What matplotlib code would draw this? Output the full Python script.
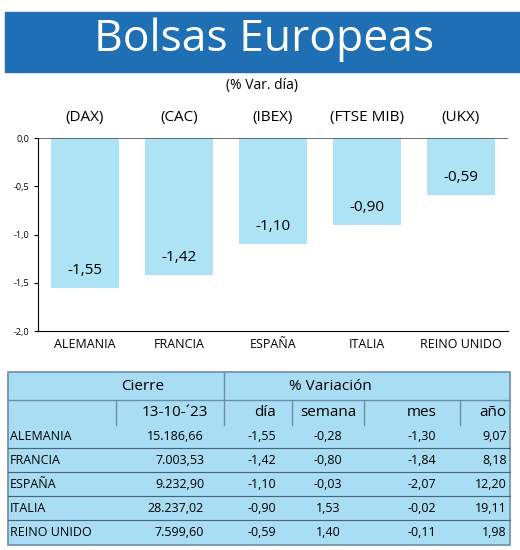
import matplotlib
matplotlib.use("Agg")
import matplotlib.pyplot as plt
from matplotlib.patches import Rectangle

plt.rcParams['font.family'] = ['Open Sans', 'DejaVu Sans']

countries = ["ALEMANIA", "FRANCIA", "ESPAÑA", "ITALIA", "REINO UNIDO"]
indices = ["(DAX)", "(CAC)", "(IBEX)", "(FTSE MIB)", "(UKX)"]
var_dia = [-1.55, -1.42, -1.10, -0.90, -0.59]
cierre = ["15.186,66", "7.003,53", "9.232,90", "28.237,02", "7.599,60"]
semana = ["-0,28", "-0,80", "-0,03", "1,53", "1,40"]
mes = ["-1,30", "-1,84", "-2,07", "-0,02", "-0,11"]
anio = ["9,07", "8,18", "12,20", "19,11", "1,98"]
yticks = [0.0, -0.5, -1.0, -1.5, -2.0]

W, H = 520, 550
fig = plt.figure(figsize=(W / 100, H / 100), dpi=100)
fig.patch.set_facecolor("white")

# overlay axes in pixel coords for header and table
ov = fig.add_axes([0, 0, 1, 1])
ov.set_xlim(0, W)
ov.set_ylim(H, 0)
ov.axis("off")

ov.add_patch(Rectangle((5, 12), 515, 60, color="#1e6fb3"))
ov.text(264, 40, "Bolsas Europeas", color="white", fontsize=32, ha="center", va="center")
ov.text(262, 86, "(% Var. día)", fontsize=10, ha="center", va="center")

# bar chart
ax = fig.add_axes([38 / W, 1 - 331 / H, 470 / W, 193 / H])
x = range(len(var_dia))
ax.bar(x, var_dia, width=0.72, color="#aee3f5")
for i, v in enumerate(var_dia):
    ax.text(i, v + 0.1, f"{v:.2f}".replace(".", ","), ha="center", va="bottom", fontsize=11)
    ax.text(i, 0.13, indices[i], ha="center", va="bottom", fontsize=11)
ax.set_xlim(-0.5, 4.5)
ax.set_ylim(-2.0, 0.0)
ax.set_yticks(yticks)
ax.set_yticklabels([f"{t:.1f}".replace(".", ",") for t in yticks], fontsize=6.5)
ax.set_xticks(list(x))
ax.set_xticklabels(countries, fontsize=9)
ax.tick_params(axis="x", length=0, pad=5)
ax.tick_params(axis="y", length=3)
for s in ["top", "right"]:
    ax.spines[s].set_visible(False)
ax.axhline(0.0, color="#555555", lw=0.6)
ax.set_facecolor("white")

# table
tx0, tx1, ty0, ty1 = 8, 510, 372, 545
ov.add_patch(Rectangle((tx0, ty0), tx1 - tx0, ty1 - ty0, facecolor="#a9ddf3", edgecolor="#6b8fa8", lw=1.2))
lc = "#6b8fa8"
ov.plot([tx0, tx1], [400, 400], color=lc, lw=1)
ov.plot([224, 224], [ty0, 425], color=lc, lw=1)
for xv in [116, 292, 364, 460]:
    ov.plot([xv, xv], [400, 425], color=lc, lw=1)
ov.text(143, 386, "Cierre", fontsize=11, ha="center", va="center")
ov.text(330, 386, "% Variación", fontsize=11, ha="center", va="center")
heads = [("13-10-´23", 208), ("día", 276), ("semana", 328), ("mes", 437), ("año", 506)]
for h, xr in heads:
    if h == "semana":
        ov.text(xr, 413, h, fontsize=11, ha="center", va="center")
    else:
        ov.text(xr, 413, h, fontsize=11, ha="right", va="center")
row_h = 24
for r, c in enumerate(countries):
    yc = 437 + r * row_h
    ov.text(10, yc, c, fontsize=9, ha="left", va="center")
    ov.text(204, yc, cierre[r], fontsize=9, ha="right", va="center")
    ov.text(276, yc, f"{var_dia[r]:.2f}".replace(".", ","), fontsize=9, ha="right", va="center")
    ov.text(328, yc, semana[r], fontsize=9, ha="center", va="center")
    ov.text(436, yc, mes[r], fontsize=9, ha="right", va="center")
    ov.text(507, yc, anio[r], fontsize=9, ha="right", va="center")
    if r < len(countries) - 1:
        ov.plot([tx0, tx1], [yc + 11, yc + 11], color="#4a6272", lw=0.8)

fig.savefig("out.png", dpi=100)
